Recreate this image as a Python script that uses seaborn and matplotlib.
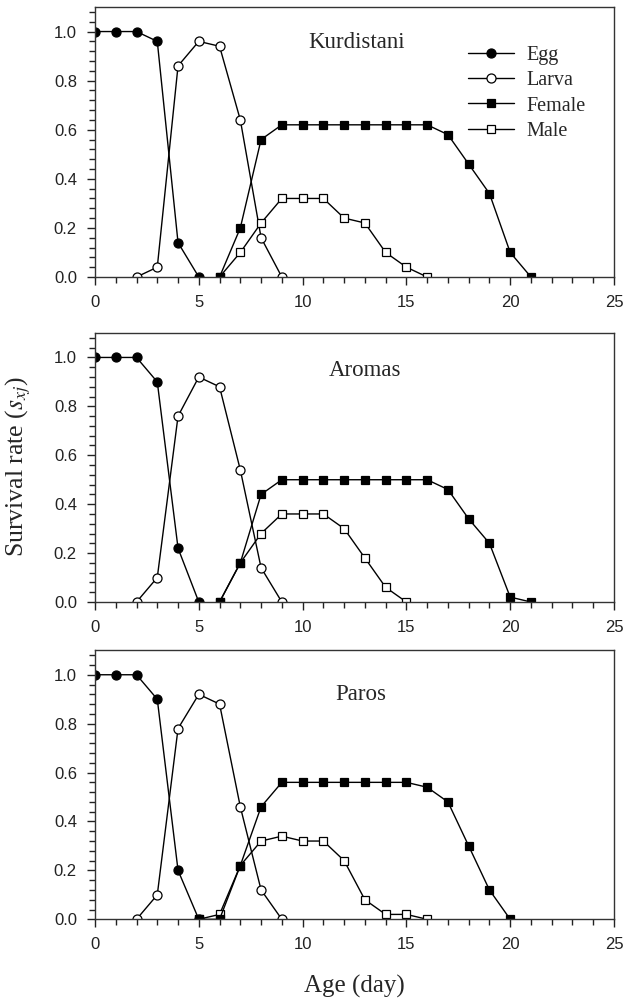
import matplotlib
matplotlib.use("Agg")
import matplotlib.pyplot as plt
from matplotlib.ticker import MultipleLocator, FormatStrFormatter
import seaborn as sns

sns.set_style("ticks")
plt.rcParams['font.family'] = ['Liberation Sans', 'DejaVu Sans']
plt.rcParams['mathtext.fontset'] = 'stix'

SERIF = ['Liberation Serif', 'DejaVu Serif']

STAGES = ["Egg", "Larva", "Female", "Male"]

# first day of each curve, then the survival values day by day
KURD_START = {"Egg": 0, "Larva": 2, "Female": 6, "Male": 6}
KURD_EGG = [1.0, 1.0, 1.0, 0.96, 0.14, 0.0]
KURD_LARVA = [0.0, 0.04, 0.86, 0.96, 0.94, 0.64, 0.16, 0.0]
KURD_FEMALE = [0.0, 0.20, 0.56, 0.62, 0.62, 0.62, 0.62, 0.62, 0.62, 0.62, 0.62, 0.58, 0.46, 0.34, 0.10, 0.0]
KURD_MALE = [0.0, 0.10, 0.22, 0.32, 0.32, 0.32, 0.24, 0.22, 0.10, 0.04, 0.0]

AROM_START = {"Egg": 0, "Larva": 2, "Female": 6, "Male": 6}
AROM_EGG = [1.0, 1.0, 1.0, 0.90, 0.22, 0.0]
AROM_LARVA = [0.0, 0.10, 0.76, 0.92, 0.88, 0.54, 0.14, 0.0]
AROM_FEMALE = [0.0, 0.16, 0.44, 0.50, 0.50, 0.50, 0.50, 0.50, 0.50, 0.50, 0.50, 0.46, 0.34, 0.24, 0.02, 0.0]
AROM_MALE = [0.0, 0.16, 0.28, 0.36, 0.36, 0.36, 0.30, 0.18, 0.06, 0.0]

PAROS_START = {"Egg": 0, "Larva": 2, "Female": 5, "Male": 5}
PAROS_EGG = [1.0, 1.0, 1.0, 0.90, 0.20, 0.0]
PAROS_LARVA = [0.0, 0.10, 0.78, 0.92, 0.88, 0.46, 0.12, 0.0]
PAROS_FEMALE = [0.0, 0.0, 0.22, 0.46, 0.56, 0.56, 0.56, 0.56, 0.56, 0.56, 0.56, 0.54, 0.48, 0.30, 0.12, 0.0]
PAROS_MALE = [0.0, 0.02, 0.22, 0.32, 0.34, 0.32, 0.32, 0.24, 0.08, 0.02, 0.02, 0.0]

PANELS = [
    ("Kurdistani", KURD_START, {"Egg": KURD_EGG, "Larva": KURD_LARVA, "Female": KURD_FEMALE, "Male": KURD_MALE}, (12.6, 0.955)),
    ("Aromas", AROM_START, {"Egg": AROM_EGG, "Larva": AROM_LARVA, "Female": AROM_FEMALE, "Male": AROM_MALE}, (13.0, 0.945)),
    ("Paros", PAROS_START, {"Egg": PAROS_EGG, "Larva": PAROS_LARVA, "Female": PAROS_FEMALE, "Male": PAROS_MALE}, (12.8, 0.92)),
]

STYLE = {
    "Egg": dict(marker="o", markerfacecolor="black", markersize=6.5),
    "Larva": dict(marker="o", markerfacecolor="white", markersize=6.5),
    "Female": dict(marker="s", markerfacecolor="black", markersize=5.5),
    "Male": dict(marker="s", markerfacecolor="white", markersize=5.5),
}
DRAW_ORDER = ["Egg", "Larva", "Male", "Female"]

fig = plt.figure(figsize=(6.25, 10), dpi=100)
boxes = [(0.152, 0.723, 0.8304, 0.270),
         (0.152, 0.398, 0.8304, 0.269),
         (0.152, 0.0807, 0.8304, 0.269)]

for i, (name, starts, series, tpos) in enumerate(PANELS):
    ax = fig.add_axes(boxes[i])
    handles = {}
    for stage in DRAW_ORDER:
        vals = series[stage]
        days = list(range(starts[stage], starts[stage] + len(vals)))
        sns.lineplot(x=days, y=vals, ax=ax, color="black", linewidth=1.0,
                     markeredgecolor="black", markeredgewidth=0.9, **STYLE[stage])
        handles[stage] = ax.lines[-1]
    ax.set_xlim(0, 25)
    ax.set_ylim(0, 1.1)
    ax.minorticks_on()
    ax.xaxis.set_major_locator(MultipleLocator(5))
    ax.xaxis.set_minor_locator(MultipleLocator(1))
    ax.yaxis.set_major_locator(MultipleLocator(0.2))
    ax.yaxis.set_minor_locator(MultipleLocator(0.04))
    ax.yaxis.set_major_formatter(FormatStrFormatter("%.1f"))
    ax.tick_params(which="major", direction="out", length=6, width=1, labelsize=12,
                   pad=7, colors="#222222", top=False, right=False)
    ax.tick_params(which="minor", direction="out", length=4, width=1,
                   colors="#222222", top=False, right=False, bottom=True, left=True)
    for sp in ax.spines.values():
        sp.set_visible(True)
        sp.set_linewidth(1.0)
        sp.set_color("#333333")
    ax.text(tpos[0], tpos[1], name, ha="center", va="center", fontsize=16.5, family=SERIF)
    ax.set_xlabel("")
    ax.set_ylabel("")
    if i == 0:
        ax.legend([handles[s] for s in STAGES], STAGES, loc="upper left",
                  bbox_to_anchor=(0.719, 0.855), frameon=False, borderpad=0,
                  borderaxespad=0, handlelength=2.3, handletextpad=0.6,
                  labelspacing=0.3, prop={"family": SERIF, "size": 14.5})

fig.text(0.567, 0.014, "Age (day)", ha="center", va="center", fontsize=18, family=SERIF)
fig.text(0.029, 0.533, "Survival rate ($s_{xj}$)", ha="center", va="center",
         rotation=90, fontsize=18.5, family=SERIF)

fig.savefig("out.png", dpi=100)
